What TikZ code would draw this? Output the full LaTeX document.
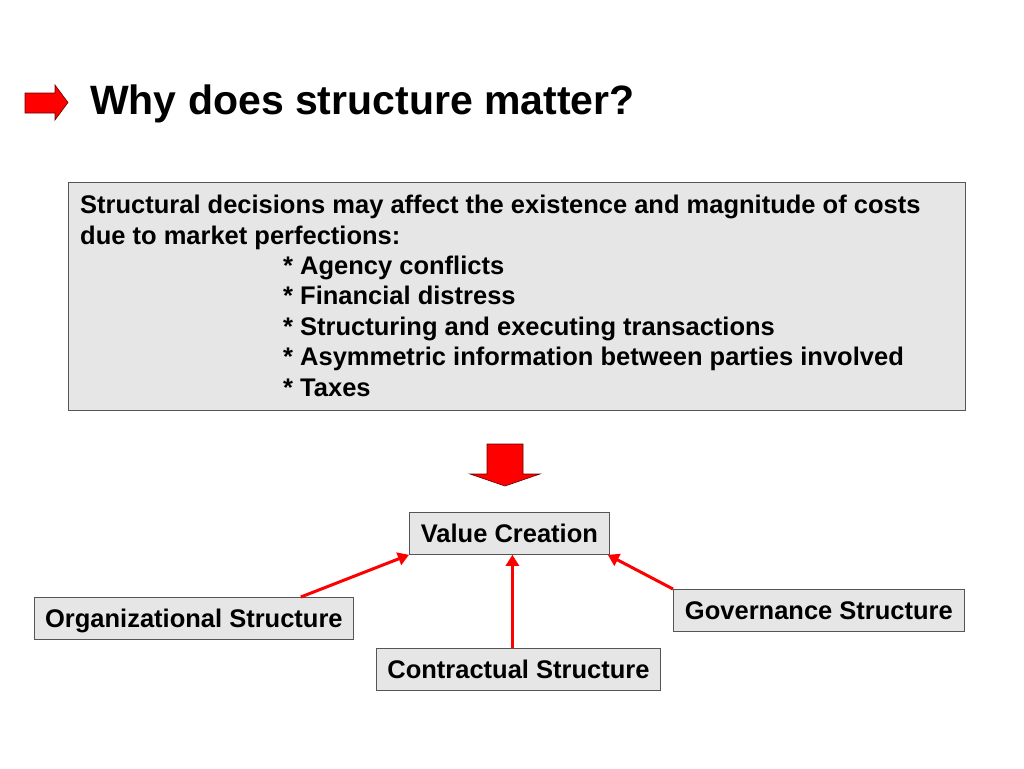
\documentclass[tikz,border=0pt]{standalone}
\usepackage{fontspec}
\setmainfont{Liberation Sans}
\usetikzlibrary{arrows.meta}
\definecolor{boxfill}{HTML}{E6E6E6}
\definecolor{boxdraw}{HTML}{555555}
\definecolor{arrred}{HTML}{FF0000}
\tikzset{
  txt/.style={font=\bfseries\fontsize{25.5}{30}\selectfont, inner sep=0pt, anchor=base west},
  lbl/.style={font=\bfseries\fontsize{25.5}{30}\selectfont, inner sep=0pt, anchor=base},
  vbox/.style={draw=boxdraw, fill=boxfill, line width=0.8pt, inner sep=0pt},
  conn/.style={draw=arrred, line width=3pt, -{Triangle[length=11pt,width=13pt]}},
  bigarrow/.style={fill=arrred, draw=black!60!red, line width=0.6pt}
}
\begin{document}
\begin{tikzpicture}[x=1pt,y=-1pt]
\useasboundingbox[fill=white] (0,0) rectangle (1024,768);
% title arrow
\path[bigarrow] (25,93) -- (55,93) -- (55,85) -- (68,102.5) -- (55,120) -- (55,113) -- (25,113) -- cycle;
\node[font=\bfseries\fontsize{41}{48}\selectfont, inner sep=0pt, anchor=base west] (title) at (90,114) {Why does structure matter?};
% main box
\node[vbox, minimum width=897pt, minimum height=228pt, anchor=north west] (main) at (68,182) {};
\node[txt] (l1) at (80,213) {Structural decisions may affect the existence and magnitude of costs};
\node[txt] (l2) at (80,244) {due to market perfections:};
\node[txt] (l3) at (283,274) {* Agency conflicts};
\node[txt] (l4) at (283,304) {* Financial distress};
\node[txt] (l5) at (283,335) {* Structuring and executing transactions};
\node[txt] (l6) at (283,365) {* Asymmetric information between parties involved};
\node[txt] (l7) at (283,396) {* Taxes};
% down arrow
\path[bigarrow] (487,444) -- (523,444) -- (523,474) -- (540,474) -- (505,486) -- (470,474) -- (487,474) -- cycle;
% nodes
\node[vbox, minimum width=200pt, minimum height=42pt, anchor=north west] (vc) at (409,512) {};
\node[lbl] (vct) at ([yshift=-9pt]vc.center) {Value Creation};
\node[vbox, minimum width=319pt, minimum height=42pt, anchor=north west] (org) at (34,597) {};
\node[lbl] (orgt) at ([yshift=-9pt]org.center) {Organizational Structure};
\node[vbox, minimum width=291pt, minimum height=42pt, anchor=north west] (gov) at (673,589) {};
\node[lbl] (govt) at ([yshift=-9pt]gov.center) {Governance Structure};
\node[vbox, minimum width=284pt, minimum height=42pt, anchor=north west] (con) at (376,648) {};
\node[lbl] (cont) at ([yshift=-9pt]con.center) {Contractual Structure};
% connectors
\draw[conn] ([xshift=-53pt]org.north east) -- (vc.south west);
\draw[conn] ([xshift=-6pt]con.north) -- ([xshift=3pt]vc.south);
\draw[conn] (gov.north west) -- ([xshift=-2pt]vc.south east);
\end{tikzpicture}
\end{document}
